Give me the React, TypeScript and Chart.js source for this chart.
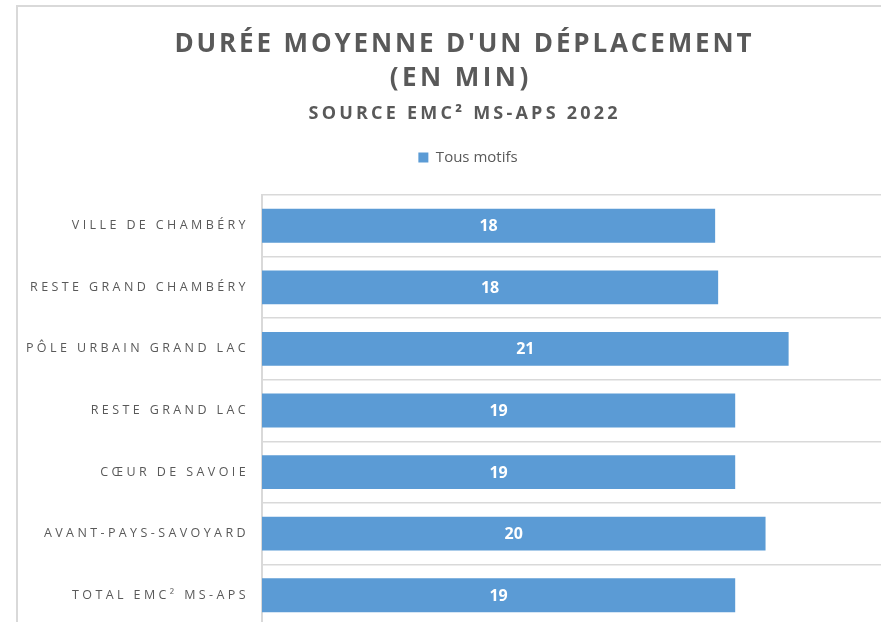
import React, { useEffect, useRef } from "react";
import { Chart, registerables } from "chart.js";

Chart.register(...registerables);

const categories = [
  "VILLE DE CHAMBÉRY",
  "RESTE GRAND CHAMBÉRY",
  "PÔLE URBAIN GRAND LAC",
  "RESTE GRAND LAC",
  "CŒUR DE SAVOIE",
  "AVANT-PAYS-SAVOYARD",
  "TOTAL EMC² MS-APS",
];
const tousMotifs = [18.07, 18.19, 21.0, 18.87, 18.87, 20.08, 18.87];
const seriesName = "Tous motifs";
const titleLines = ["DURÉE MOYENNE D'UN DÉPLACEMENT", "(EN MIN)"];
const subtitleText = "SOURCE EMC² MS-APS 2022";
const axisMin = 0;
const axisMax = 26;

const W = 925;
const H = 640;
const TEXT = "#595959";
const LINE = "#d9d9d9";
const BAR = "#5B9BD5";

function drawSpaced(
  ctx: CanvasRenderingContext2D,
  text: string,
  cx: number,
  baseline: number,
  font: string,
  target: number | null,
  spacing: number
) {
  ctx.font = font;
  (ctx as any).letterSpacing = "0px";
  const w0 = ctx.measureText(text).width;
  const n = Array.from(text).length;
  const s = target ? (target - w0) / (n - 1) : spacing;
  (ctx as any).letterSpacing = s + "px";
  const w = w0 + s * (n - 1);
  ctx.textAlign = "left";
  ctx.textBaseline = "alphabetic";
  ctx.fillText(text, cx - w / 2, baseline);
  return s;
}

const decor = {
  id: "decor",
  beforeDraw(chart: any) {
    const ctx = chart.ctx as CanvasRenderingContext2D;
    ctx.save();
    ctx.fillStyle = "#ffffff";
    ctx.fillRect(0, 0, chart.width, chart.height);
    ctx.fillStyle = LINE;
    ctx.fillRect(16, 5, chart.width, 2);
    ctx.fillRect(16, 5, 2, chart.height);
    ctx.restore();
    (ctx as any).letterSpacing = "0px";
  },
  afterDatasetsDraw(chart: any) {
    const ctx = chart.ctx as CanvasRenderingContext2D;
    const meta = chart.getDatasetMeta(0);
    const data = chart.data.datasets[0].data as number[];
    ctx.save();
    (ctx as any).letterSpacing = "0px";
    ctx.font = 'bold 16px "Open Sans"';
    ctx.fillStyle = "#ffffff";
    ctx.textAlign = "center";
    ctx.textBaseline = "middle";
    meta.data.forEach((bar: any, i: number) => {
      const p = bar.getProps(["x", "y", "base"], true);
      ctx.fillText(String(Math.round(data[i])), (p.x + p.base) / 2, p.y + 1);
    });
    ctx.restore();
    (ctx as any).letterSpacing = "3.4px";
  },
  afterDraw(chart: any) {
    const ctx = chart.ctx as CanvasRenderingContext2D;
    ctx.save();
    ctx.fillStyle = TEXT;
    const s = drawSpaced(ctx, titleLines[0], 463, 52, 'bold 26px "Open Sans"', 577, 0);
    drawSpaced(ctx, titleLines[1], 459, 86, 'bold 26px "Open Sans"', null, s + 0.6);
    drawSpaced(ctx, subtitleText, 463, 119, 'bold 18px "Open Sans"', 309, 0);
    ctx.restore();
    (ctx as any).letterSpacing = "0px";
  },
};

export default function App() {
  const ref = useRef<HTMLCanvasElement | null>(null);
  useEffect(() => {
    if (!ref.current) return;
    const chart = new Chart(ref.current, {
      type: "bar",
      data: {
        labels: categories,
        datasets: [
          {
            label: seriesName,
            data: tousMotifs,
            backgroundColor: BAR,
            borderWidth: 0,
            barPercentage: 0.55,
            categoryPercentage: 1,
          },
        ],
      },
      options: {
        indexAxis: "y",
        responsive: true,
        maintainAspectRatio: false,
        animation: false,
        devicePixelRatio: 1,
        layout: { autoPadding: false, padding: { top: 140, left: 22, right: 11, bottom: 14 } },
        plugins: {
          title: { display: false },
          tooltip: { enabled: false },
          legend: {
            display: true,
            position: "top",
            labels: {
              boxWidth: 10,
              boxHeight: 10,
              padding: 10,
              color: TEXT,
              font: { family: "Open Sans", size: 15 },
            },
          },
        },
        scales: {
          x: {
            position: "top",
            min: axisMin,
            max: axisMax,
            grid: { display: false },
            border: { display: false },
            ticks: { display: false },
            afterFit: (s: any) => {
              s.height = 20;
            },
          },
          y: {
            grid: { display: true, color: LINE, lineWidth: 1.5, drawTicks: false, offset: true },
            border: { display: true, color: LINE, width: 2 },
            ticks: {
              color: TEXT,
              font: { family: "Open Sans", size: 12.5 },
              padding: 13,
              autoSkip: false,
              z: 1,
            },
            afterFit: (s: any) => {
              s.width = 240;
              s.paddingTop = 0;
              s.paddingBottom = 0;
            },
          },
        },
      } as any,
      plugins: [decor],
    });
    return () => chart.destroy();
  }, []);
  return (
    <div
      style={{
        position: "absolute",
        left: 0,
        top: 0,
        width: 881,
        height: 622,
        overflow: "hidden",
        background: "#fff",
      }}
    >
      <div style={{ position: "relative", width: W, height: H }}>
        <canvas ref={ref} />
      </div>
    </div>
  );
}
